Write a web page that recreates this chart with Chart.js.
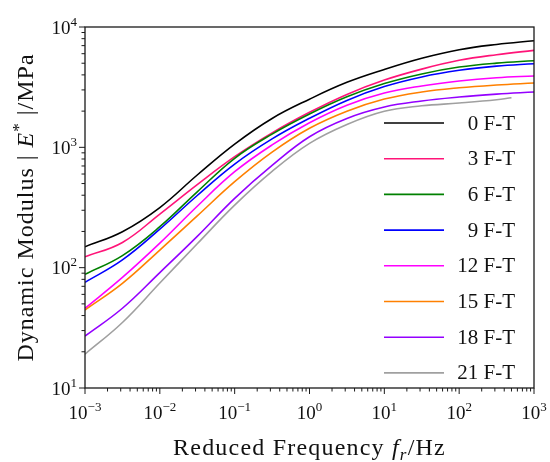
<!DOCTYPE html>
<html>
<head>
<meta charset="utf-8">
<script src="https://cdn.jsdelivr.net/npm/chart.js@4.4.1/dist/chart.umd.min.js"></script>
<style>
  html, body { margin: 0; padding: 0; background: #fff; }
  #wrap { width: 550px; height: 462px; position: relative; }
</style>
</head>
<body>
<div id="wrap"><canvas id="chartMaestra"></canvas></div>
<script>
"use strict";

/* Frecuencia reducida (Hz) — media década */
var freq   = [0.001, 0.003162, 0.01, 0.03162, 0.1, 0.3162, 1, 3.162, 10, 31.62, 100, 316.2, 1000];
var freq21 = [0.001, 0.003162, 0.01, 0.03162, 0.1, 0.3162, 1, 3.162, 10, 31.62, 100, 316.2, 500];

/* |E*| (MPa) */
var ft0  = [149, 199, 316, 589, 1064, 1738, 2512, 3467, 4436, 5495, 6471, 7161, 7691];
var ft3  = [123, 162, 279, 490, 836, 1318, 1954, 2754, 3622, 4467, 5284, 5888, 6397];
var ft6  = [88, 126, 219, 427, 811, 1288, 1892, 2630, 3388, 4074, 4645, 5012, 5248];
var ft9  = [75.5, 116, 209, 398, 726, 1175, 1742, 2455, 3199, 3846, 4365, 4732, 4955];
var ft12 = [45.9, 83, 160, 324, 627, 1047, 1600, 2239, 2825, 3236, 3556, 3784, 3917];
var ft15 = [44.5, 74, 140, 269, 518, 912, 1439, 1995, 2518, 2884, 3126, 3296, 3420];
var ft18 = [27, 46, 91, 182, 377, 708, 1225, 1738, 2163, 2427, 2618, 2767, 2884];
var ft21 = [19.1, 35, 74.5, 158, 331, 631, 1079, 1549, 1995, 2213, 2333, 2483, 2582];

var etiquetas = ['0 F-T', '3 F-T', '6 F-T', '9 F-T', '12 F-T', '15 F-T', '18 F-T', '21 F-T'];
var colores   = ['#000000', '#ff1478', '#008000', '#0000ff', '#ff00ff', '#ff8000', '#9400ff', '#a0a0a0'];

var expX = [-3, -2, -1, 0, 1, 2, 3];
var expY = [1, 2, 3, 4];

var FUENTE = '"Liberation Serif", "Times New Roman", serif';

function pares(xs, ys) {
  return xs.map(function(x, i) { return { x: x, y: ys[i] }; });
}

var series = [
  pares(freq, ft0), pares(freq, ft3), pares(freq, ft6), pares(freq, ft9),
  pares(freq, ft12), pares(freq, ft15), pares(freq, ft18), pares(freq21, ft21)
];

/* Ejes, etiquetas con exponente, títulos y leyenda interna */
var dibujoEjes = {
  id: 'dibujoEjes',
  afterDraw: function(chart) {
    var ctx = chart.ctx, a = chart.chartArea;
    var sx = chart.scales.x, sy = chart.scales.y;
    ctx.save();
    ctx.strokeStyle = '#1a1a1a';
    ctx.lineWidth = 1.3;
    ctx.strokeRect(a.left, a.top, a.right - a.left, a.bottom - a.top);

    // marcas eje x
    ctx.lineWidth = 1;
    expX.forEach(function(e) {
      var p = sx.getPixelForValue(Math.pow(10, e));
      ctx.beginPath(); ctx.moveTo(p, a.bottom); ctx.lineTo(p, a.bottom + 6); ctx.stroke();
      if (e < 3) {
        for (var m = 2; m <= 9; m++) {
          var q = sx.getPixelForValue(m * Math.pow(10, e));
          ctx.beginPath(); ctx.moveTo(q, a.bottom); ctx.lineTo(q, a.bottom + 3.5); ctx.stroke();
        }
      }
    });
    // marcas eje y
    expY.forEach(function(e) {
      var p = sy.getPixelForValue(Math.pow(10, e));
      ctx.beginPath(); ctx.moveTo(a.left, p); ctx.lineTo(a.left - 6, p); ctx.stroke();
      if (e < 4) {
        for (var m = 2; m <= 9; m++) {
          var q = sy.getPixelForValue(m * Math.pow(10, e));
          ctx.beginPath(); ctx.moveTo(a.left, q); ctx.lineTo(a.left - 3.5, q); ctx.stroke();
        }
      }
    });

    ctx.fillStyle = '#111';
    ctx.textBaseline = 'alphabetic';
    ctx.textAlign = 'left';
    var fBase = '19px ' + FUENTE, fExp = '13px ' + FUENTE;

    function potencia(e, x0, yb) {
      ctx.font = fBase; ctx.fillText('10', x0, yb);
      var w = ctx.measureText('10').width;
      ctx.font = fExp; ctx.fillText(String(e).replace('-', '\u2212'), x0 + w, yb - 8);
    }
    function anchoPotencia(e) {
      ctx.font = fBase; var w = ctx.measureText('10').width;
      ctx.font = fExp; return w + ctx.measureText(String(e).replace('-', '\u2212')).width;
    }

    expX.forEach(function(e) {
      var p = sx.getPixelForValue(Math.pow(10, e));
      potencia(e, p - anchoPotencia(e) / 2, a.bottom + 31);
    });
    expY.forEach(function(e) {
      var p = sy.getPixelForValue(Math.pow(10, e));
      potencia(e, a.left - 8 - anchoPotencia(e), p + 6.5);
    });

    function ancho(partes) {
      return partes.reduce(function(s, p) { ctx.font = p.f; return s + ctx.measureText(p.t).width; }, 0);
    }
    function escribe(partes, x0, yb) {
      partes.forEach(function(p) {
        ctx.font = p.f; ctx.fillText(p.t, x0, yb + p.dy);
        x0 += ctx.measureText(p.t).width;
      });
    }

    // título eje x
    var tx = [
      { t: 'Reduced Frequency ', f: '24px ' + FUENTE, dy: 0 },
      { t: 'f', f: 'italic 24px ' + FUENTE, dy: 0 },
      { t: 'r', f: 'italic 17px ' + FUENTE, dy: 5 },
      { t: '/Hz', f: '24px ' + FUENTE, dy: 0 }
    ];
    ctx.letterSpacing = '1.2px';
    escribe(tx, (a.left + a.right) / 2 - ancho(tx) / 2, a.bottom + 67);

    // título eje y
    var ty = [
      { t: 'Dynamic Modulus | ', f: '24px ' + FUENTE, dy: 0 },
      { t: 'E', f: 'italic 24px ' + FUENTE, dy: 0 },
      { t: '*', f: '17px ' + FUENTE, dy: -9 },
      { t: ' |/MPa', f: '24px ' + FUENTE, dy: 0 }
    ];
    ctx.letterSpacing = '1px';
    ctx.save();
    ctx.translate(33, (a.top + a.bottom) / 2);
    ctx.rotate(-Math.PI / 2);
    escribe(ty, -ancho(ty) / 2, 0);
    ctx.restore();
    ctx.letterSpacing = '0px';

    // leyenda
    ctx.font = '21px ' + FUENTE;
    ctx.textAlign = 'right';
    ctx.textBaseline = 'middle';
    chart.data.datasets.forEach(function(ds, i) {
      var yy = a.top + 96 + i * 35.7;
      ctx.strokeStyle = ds.borderColor;
      ctx.lineWidth = 1.6;
      ctx.beginPath(); ctx.moveTo(a.right - 150, yy); ctx.lineTo(a.right - 90, yy); ctx.stroke();
      ctx.fillStyle = '#111';
      ctx.fillText(ds.label, a.right - 19, yy + 1);
    });
    ctx.restore();
  }
};

new Chart(document.getElementById('chartMaestra'), {
  type: 'line',
  data: {
    datasets: series.map(function(d, i) {
      return {
        label: etiquetas[i],
        data: d,
        borderColor: colores[i],
        backgroundColor: colores[i],
        borderWidth: 1.6,
        pointRadius: 0,
        fill: false,
        tension: 0.4,
        order: 8 - i
      };
    })
  },
  options: {
    responsive: true,
    maintainAspectRatio: false,
    animation: false,
    devicePixelRatio: 1,
    layout: { padding: { left: 85, right: 16, top: 27, bottom: 74 } },
    plugins: { legend: { display: false }, tooltip: { enabled: false } },
    scales: {
      x: {
        type: 'logarithmic', min: 0.001, max: 1000,
        grid: { display: false }, border: { display: false },
        ticks: { display: false },
        afterFit: function(s) { s.height = 0; }
      },
      y: {
        type: 'logarithmic', min: 10, max: 10000,
        grid: { display: false }, border: { display: false },
        ticks: { display: false },
        afterFit: function(s) { s.width = 0; }
      }
    }
  },
  plugins: [dibujoEjes]
});
</script>
</body>
</html>
